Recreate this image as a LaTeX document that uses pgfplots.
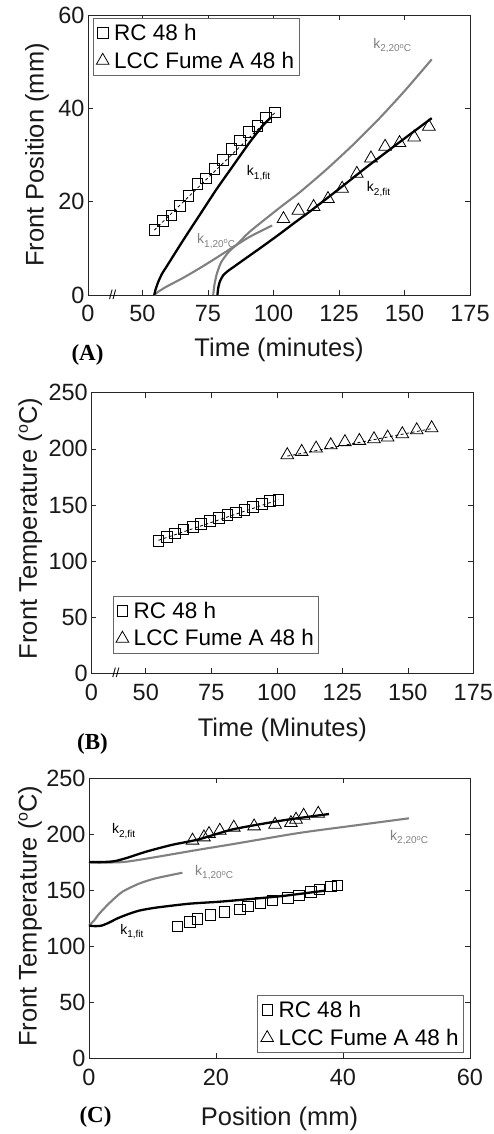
\documentclass[border=0pt]{standalone}
\usepackage{fontspec}
\setmainfont{Liberation Sans}
\newfontfamily\timesfont{Liberation Serif}
\usepackage{pgfplots}
\pgfplotsset{compat=1.18}

\definecolor{mgray}{RGB}{128,128,128}
\definecolor{axc}{RGB}{38,38,38}

\newcommand\ks[1]{k\raisebox{-3.5pt}{\fontsize{10}{10}\selectfont #1}}
\newcommand\dg{\raisebox{3.5pt}{\fontsize{7.5}{7.5}\selectfont o}}
\newcommand\ydg{\raisebox{9pt}{\fontsize{16}{16}\selectfont o}}
\newcommand\lsp{\hspace{3pt}}

\tikzset{klab/.style={font=\fontsize{14}{14}\selectfont, anchor=west, inner sep=0pt}}

\pgfplotsset{
  mystyle/.style={
    scale only axis,
    clip=false,
    axis line style={draw=axc, line width=0.6pt},
    every tick/.style={draw=axc, line width=0.6pt},
    tick align=inside,
    major tick length=5pt,
    ticklabel style={font=\fontsize{23.5}{23.5}\selectfont, text=black!90},
    xticklabel style={yshift=-7pt},
    /pgf/number format/assume math mode=true,
    label style={font=\fontsize{25.5}{25.5}\selectfont, text=black!90},
    legend style={font=\fontsize{22.5}{22.5}\selectfont, draw=black!60, line width=0.8pt, inner xsep=3pt, inner ysep=3.5pt, row sep=6pt},
    legend cell align=left,
  },
  sq/.style={only marks, mark=square, mark size=5.3pt, black, mark options={line width=0.8pt, solid}},
  tri/.style={only marks, mark=triangle, mark size=7.3pt, black, mark options={line width=0.8pt, solid}},
  fitb/.style={black, line width=2.3pt, smooth, tension=0.4, forget plot},
  fitg/.style={mgray, line width=2.1pt, smooth, tension=0.4, forget plot},
  dsh/.style={black, line width=0.8pt, dash pattern=on 3pt off 2.5pt, forget plot},
}

\pgfplotstableread{
x y
54.5 13.9
57.9 15.9
61.1 17.1
64.3 19.1
67.5 21.3
70.9 23.8
74.1 25.0
77.4 27.0
80.6 28.9
84.0 31.3
87.2 33.1
90.5 34.9
93.8 36.3
97.1 38.1
100.6 39.1
}\rcA

\pgfplotstableread{
x y
103.8 16.3
109.5 18.1
115.3 18.9
120.8 20.6
126.2 22.8
131.8 26.0
137.2 29.3
142.6 31.8
148.1 32.6
153.7 33.8
159.3 36.1
}\lccA

\pgfplotstableread{
x y
54.8 117.9
58.0 121.7
61.1 124.7
64.3 128.3
67.9 130.6
71.1 133.0
74.5 135.7
77.8 138.6
81.1 141.0
84.4 143.4
87.6 145.5
90.8 148.4
94.2 150.8
97.4 153.5
100.6 154.4
}\rcB

\pgfplotstableread{
x y
104.0 194.5
109.5 197.4
115.0 200.4
120.6 203.3
126.0 206.1
131.5 207.2
137.1 208.7
142.3 210.2
147.9 213.2
153.4 216.7
159.1 218.5
}\lccB

\pgfplotstableread{
x y
13.9 117.9
15.9 121.7
17.1 124.7
19.1 128.3
21.3 130.6
23.8 133.0
25.0 135.7
27.0 138.6
28.9 141.0
31.3 143.4
33.1 145.5
34.9 148.4
36.3 150.8
38.1 153.5
39.1 154.4
}\rcC

\pgfplotstableread{
x y
16.3 194.5
18.1 197.4
18.9 200.4
20.6 203.3
22.8 206.1
26.0 207.2
29.3 208.7
31.8 210.2
32.6 213.2
33.8 216.7
36.1 218.5
}\lccC

\begin{document}
\begin{tikzpicture}
\path[use as bounding box] (0,0) rectangle (494pt,-1134pt);

% ---------------- Panel A ----------------
\begin{axis}[mystyle,
  at={(88pt,-295pt)}, anchor=south west,
  width=382pt, height=280pt,
  xmin=29.2, xmax=175, ymin=0, ymax=60,
  xtick={29.2,50,75,100,125,150,175},
  xticklabels={0,50,75,100,125,150,175},
  ytick={0,20,40,60},
  xlabel={Time (minutes)},
  ylabel={Front Position (mm)},
  xlabel style={at={(axis description cs:0.5,-0.195)}, anchor=center},
  ylabel style={at={(axis description cs:-0.1335,0.5)}, anchor=center},
  legend style={at={(0,1)}, anchor=north west, xshift=5pt, yshift=-3pt},
]
\addplot[fitg] coordinates {(54.5,0) (56,0.7) (59.2,1.8) (65.6,3.7) (72.0,5.8) (78.3,8.0) (84.7,10.3) (91.0,12.5) (99.5,14.9)};
\addplot[fitg] coordinates {(77.0,0) (77.4,2) (78.3,4.4) (80,7) (83,9.3) (86.2,10.9) (91,13.6) (102.8,18.9) (110,22.0) (120,26.8) (130,32.0) (140,37.6) (150,43.7) (160.4,50.5)};
\addplot[fitb] coordinates {(54.5,0) (54.9,1.0) (56.0,2.8) (57.5,4.6) (59.2,6.1) (65.6,11.8) (72.0,17.3) (78.3,22.7) (84.7,27.8) (91.0,32.8) (96.1,36.4) (98.9,38.0)};
\addplot[fitb] coordinates {(78.6,0) (78.9,1.5) (79.6,3.0) (80.8,4.2) (82.5,5.1) (85,6.1) (88.5,7.5) (94.8,10.0) (101.2,12.6) (108.8,15.8) (113.9,17.9) (125.4,22.9) (136,27.6) (148,32.7) (160.4,37.9)};
\addplot[dsh] coordinates {(54.5,13.9) (100.6,39.1)};
\addplot[sq] table {\rcA};
\addlegendentry{\lsp RC 48 h}
\addplot[tri] table {\lccA};
\addlegendentry{\lsp LCC Fume A 48 h}
\node[klab] at (axis cs:89.8,26.1) {\ks{1,fit}};
\node[klab, text=mgray] at (axis cs:70.8,11.6) {\ks{1,20\dg C}};
\node[klab, text=mgray] at (axis cs:138,53.4) {\ks{2,20\dg C}};
\node[klab] at (axis cs:135.6,22.7) {\ks{2,fit}};
\node[font=\fontsize{13}{13}\selectfont, inner sep=0pt] at (axis cs:38.6,0) {//};
\end{axis}
\node[font={\fontsize{23}{23}\timesfont\bfseries}] at (87.5pt,-355pt) {(A)};

% ---------------- Panel B ----------------
\begin{axis}[mystyle,
  at={(91.3pt,-673.3pt)}, anchor=south west,
  width=382pt, height=280.6pt,
  xmin=29.2, xmax=175, ymin=0, ymax=250,
  xtick={29.2,50,75,100,125,150,175},
  xticklabels={0,50,75,100,125,150,175},
  ytick={0,50,100,150,200,250},
  xlabel={Time (Minutes)},
  ylabel={Front Temperature (\ydg C)},
  xlabel style={at={(axis description cs:0.5,-0.2)}, anchor=center},
  ylabel style={at={(axis description cs:-0.16,0.516)}, anchor=center},
  legend style={at={(0,0)}, anchor=south west, xshift=21.4pt, yshift=20pt},
]
\addplot[dsh] coordinates {(54.8,118.5) (100.6,154.6)};
\addplot[dsh] coordinates {(104.0,193.5) (159.1,218.0)};
\addplot[sq] table {\rcB};
\addlegendentry{\lsp RC 48 h}
\addplot[tri] table {\lccB};
\addlegendentry{\lsp LCC Fume A 48 h}
\node[font=\fontsize{13}{13}\selectfont, inner sep=0pt] at (axis cs:38.6,0) {//};
\end{axis}
\node[font={\fontsize{23}{23}\timesfont\bfseries}] at (92.5pt,-743.5pt) {(B)};

% ---------------- Panel C ----------------
\begin{axis}[mystyle,
  at={(89pt,-1058.3pt)}, anchor=south west,
  width=381pt, height=280pt,
  xmin=0, xmax=60, ymin=0, ymax=250,
  xtick={0,20,40,60},
  ytick={0,50,100,150,200,250},
  xlabel={Position (mm)},
  ylabel={Front Temperature (\ydg C)},
  xlabel style={at={(axis description cs:0.5,-0.215)}, anchor=center},
  ylabel style={at={(axis description cs:-0.155,0.508)}, anchor=center},
  legend style={at={(1,0)}, anchor=south east, xshift=-6pt, yshift=5.6pt},
]
\addplot[fitg] coordinates {(0,175) (3,174.8) (5.5,175.3) (8,177.3) (12.2,181.3) (17,186) (22.7,191.3) (33.2,201.3) (42,208) (50.4,214.3)};
\addplot[fitg] coordinates {(0,118.5) (0.8,123) (1.6,129) (3.1,138) (5.2,148.5) (7.9,156) (10.5,160.7) (14.7,165.7)};
\addplot[fitb] coordinates {(0,175.2) (2,175.2) (4,176) (6,179) (9,184.5) (13,190.5) (17.3,195.5) (22.7,204.5) (30.6,212.5) (37.8,218.1)};
\addplot[fitb] coordinates {(0,118.5) (1,118) (2,118.5) (3.1,121) (4.5,125) (6.3,129) (8,132) (10.5,134.5) (15.7,138) (20.5,139.8) (25,142) (30.6,145) (37.3,149.8)};
\addplot[sq] table {\rcC};
\addlegendentry{\lsp RC 48 h}
\addplot[tri] table {\lccC};
\addlegendentry{\lsp LCC Fume A 48 h}
\node[klab] at (axis cs:3.6,203) {\ks{2,fit}};
\node[klab, text=mgray] at (axis cs:47.4,197) {\ks{2,20\dg C}};
\node[klab, text=mgray] at (axis cs:16.7,166) {\ks{1,20\dg C}};
\node[klab] at (axis cs:4.9,113) {\ks{1,fit}};
\end{axis}
\node[font={\fontsize{23}{23}\timesfont\bfseries}] at (95.5pt,-1117pt) {(C)};
\end{tikzpicture}
\end{document}
